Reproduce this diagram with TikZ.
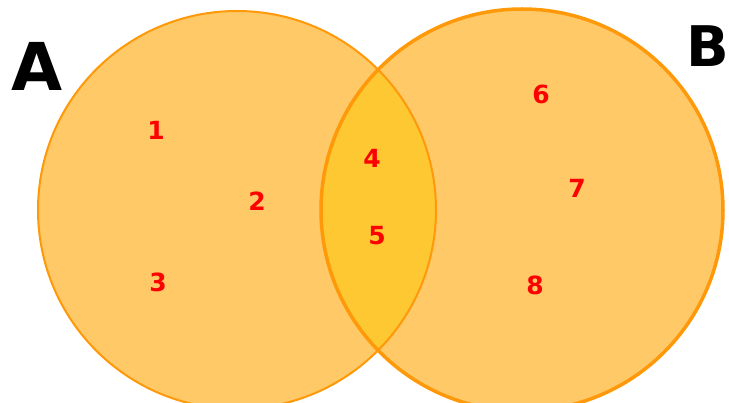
\documentclass[tikz,border=0pt]{standalone}
\usepackage{fontspec}
\setmainfont{DejaVu Sans}
\definecolor{vfill}{RGB}{254,201,102}
\definecolor{vlens}{RGB}{254,200,50}
\definecolor{vline}{RGB}{255,153,10}
\definecolor{vnum}{RGB}{255,0,0}
\tikzset{
  setA/.style={circle,fill=vfill,inner sep=0pt,minimum size=398pt},
  setB/.style={circle,fill=vfill,inner sep=0pt,minimum size=402pt},
  num/.style={text=vnum,font=\fontsize{25}{30}\selectfont\bfseries,inner sep=0pt},
  big/.style={text=black,font=\fontsize{66}{70}\selectfont\bfseries,inner sep=0pt}
}
\begin{document}
\begin{tikzpicture}[x=1pt,y=-1pt]
\useasboundingbox (0,0) rectangle (729,403);
\node[setA] (cA) at (237,210) {};
\node[setB] (cB) at (522,210) {};
\begin{scope}
  \clip (237,210) circle (199);
  \fill[vlens] (522,210) circle (201);
\end{scope}
\draw[vline,line width=2pt] (cA.center) circle (199);
\draw[vline,line width=3.5pt] (cB.center) circle (201);
\node[num] (n1) at (156,130) {1};
\node[num] (n2) at (257,201) {2};
\node[num] (n3) at (158,282) {3};
\node[num] (n4) at (372,158) {4};
\node[num] (n5) at (377,236) {5};
\node[num] (n6) at (541,94) {6};
\node[num] (n7) at (577,188) {7};
\node[num] (n8) at (535,285) {8};
\node[big] (lA) at (37,66) {A};
\node[big,font=\fontsize{56}{60}\selectfont\bfseries] (lB) at (708,46) {B};
\end{tikzpicture}
\end{document}
